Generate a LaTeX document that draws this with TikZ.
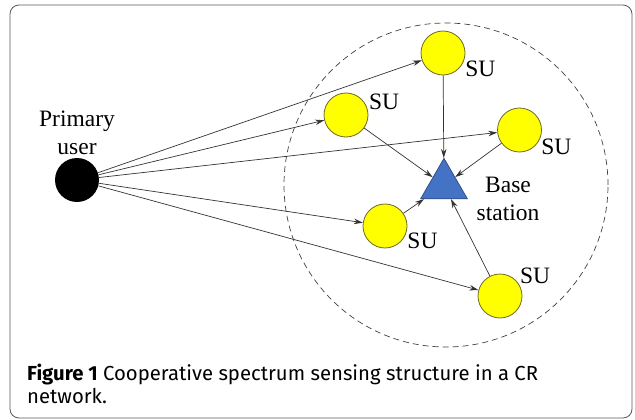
\documentclass[tikz,border=0pt]{standalone}
\usepackage{fontspec}
\setmainfont{Liberation Serif}
\newfontfamily\captionfont{Fira Sans}
\usetikzlibrary{arrows.meta,shapes.geometric,positioning}
\definecolor{suyellow}{RGB}{255,255,0}
\definecolor{suedge}{RGB}{110,105,40}
\definecolor{bsblue}{RGB}{68,114,196}
\definecolor{bsedge}{RGB}{45,75,130}
\newcommand{\labelSize}{\fontsize{23.5}{28}\selectfont}

\begin{document}
\begin{tikzpicture}[x=1pt, y=-1pt, >={Stealth[length=9pt,width=5.5pt]}, font=\labelSize]
  \tikzset{su node/.style={circle,draw=suedge,fill=suyellow,line width=0.8pt,minimum size=44pt,inner sep=0pt},
    su label/.style={label distance=1pt,inner sep=0pt},
    link/.style={->,draw=black!80,line width=0.7pt}}
  \useasboundingbox (0,0) rectangle (635,420);
  \draw[black!65, line width=0.8pt, rounded corners=9pt] (10,5) rectangle (632,418);
  \node (cell) [circle, draw=black!75, line width=0.7pt, dash pattern=on 6pt off 4pt, minimum size=324pt, inner sep=0pt] at (446,185) {};
  \node (PU) [circle, fill=black, minimum size=44pt, inner sep=0pt] at (77,180) {};
  \node (PU-l) [above=3pt of PU, align=center, inner sep=0pt] {Primary\\user};
  \node (BS) [regular polygon, regular polygon sides=3, draw=bsedge, fill=bsblue, line width=0.7pt, minimum size=54pt, inner sep=0pt] at (444,185.3) {};
  \node (BS-l) [align=center, inner sep=0pt] at (508,198.5) {Base\\station};
  \node (SU-1) [su node, label={[su label]-19:SU}] at (443,53) {};
  \node (SU-2) [su node, label={[su label]12:SU}] at (346,115) {};
  \node (SU-3) [su node, label={[su label]-22:SU}] at (519.5,130) {};
  \node (SU-4) [su node, label={[su label]-18:SU}] at (385,226) {};
  \node (SU-5) [su node, label={[su label]32:SU}] at (500,296) {};
  \draw[link] (PU) -- (SU-1);
  \draw[link] (PU) -- (SU-2);
  \draw[link] (PU) -- (SU-3);
  \draw[link] (PU) -- (SU-4);
  \draw[link] (PU) -- (SU-5);
  \draw[link] (SU-1) -- (BS);
  \draw[link] (SU-2) -- (BS);
  \draw[link] (SU-3) -- (BS);
  \draw[link] (SU-4) -- (BS);
  \draw[link] (SU-5) -- (BS);
  \node (fig-cap) [anchor=base west, align=left, inner sep=0pt, font=\captionfont\fontsize{20.3}{23.5}\selectfont] at (27,403.5) {\textbf{Figure 1} Cooperative spectrum sensing structure in a CR\\network.};
\end{tikzpicture}
\end{document}
